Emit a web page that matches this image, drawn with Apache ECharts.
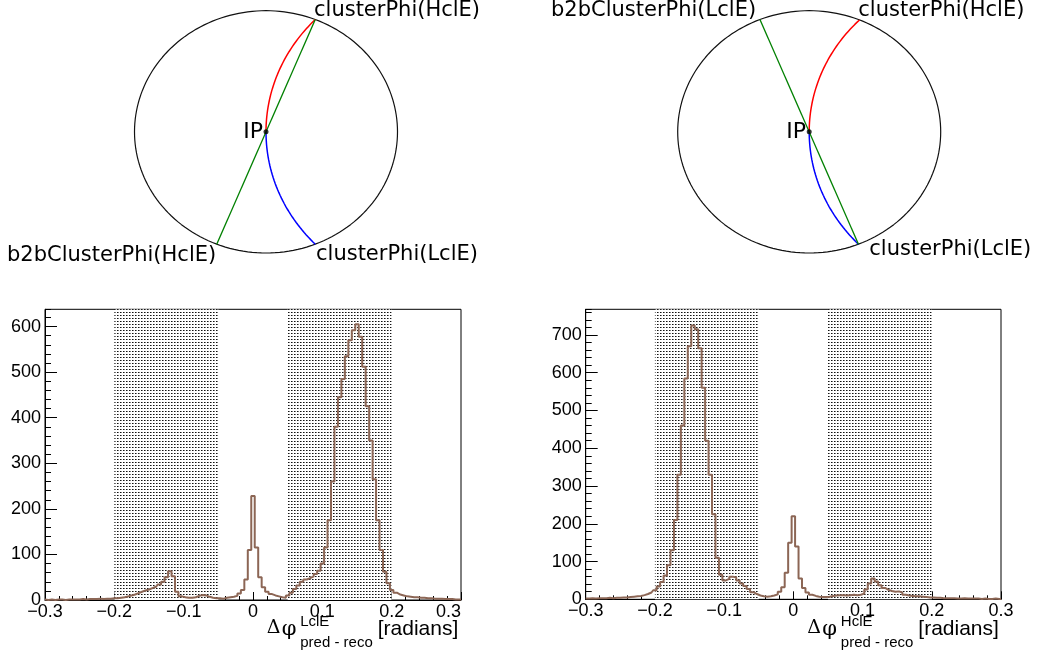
<!DOCTYPE html>
<html><head><meta charset="utf-8">
<script src="https://cdn.jsdelivr.net/npm/echarts@6/dist/echarts.min.js"></script>
<style>html,body{margin:0;padding:0;background:#fff}#c{width:1038px;height:659px}</style>
</head><body><div id="c"></div>
<script>
// ---------- data ----------
const binMin = -0.3;
const binWidth = 0.005;
// counts per bin, bin centres -0.300 ... 0.300 (LclE plot, left)
const countsLclE = [
 1,0,1,0,1,1,0,1,1,1, 1,2,1,2,2,2,3,2,3,3,
 4,4,5,6,8,10,12,15,18,21, 23,26,29,34,40,50,63,52,18,8,
 6,5,5,6,9,11,10,7,5,4, 4,3,5,6,7,9,14,22,45,110,
 228,115,50,28,18,13,10,8,6,5, 10,16,24,32,40,45,48,52,57,64,
 80,115,175,260,380,445,485,535,570,592, 605,578,512,425,350,265,175,110,62,37,
 22,16,12,10,8,7,6,6,5,5, 4,4,3,3,3,2,2,2,1,1, 1];
// counts per bin (HclE plot, right)
const countsHclE = [
 2,2,3,2,3,3,3,4,3,4, 4,5,5,6,7,8,9,11,14,18,
 24,34,46,63,90,130,210,330,460,585, 670,725,715,665,560,420,330,225,110,65,
 50,54,60,58,50,42,35,27,19,14, 10,8,7,8,10,13,20,32,70,150,
 220,140,55,30,18,12,9,7,6,6, 7,9,10,11,11,10,11,12,11,12,
 15,26,42,55,47,37,30,25,22,20, 21,18,12,10,9,8,8,7,6,5,
 5,4,4,3,3,3,3,2,2,3, 2,2,2,2,1,2,1,1,2,1, 1];
const shadedRanges = [[-0.2, -0.05], [0.05, 0.2]];
const yMaxLcl = 638;
const yMaxHcl = 768;

// diagram angles (degrees, on the unit circle of each sketch)
const leftDiagramClusterAngles = [68, -68];     // clusterPhi(HclE), clusterPhi(LclE)
const leftDiagramB2BAngle = 248;                // b2bClusterPhi(HclE)
const rightDiagramClusterAngles = [67.5, -68];  // clusterPhi(HclE), clusterPhi(LclE)
const rightDiagramB2BAngle = 112;               // b2bClusterPhi(LclE)
const leftDiagramLabels = ['clusterPhi(HclE)', 'clusterPhi(LclE)', 'b2bClusterPhi(HclE)'];
const rightDiagramLabels = ['clusterPhi(HclE)', 'clusterPhi(LclE)', 'b2bClusterPhi(LclE)'];

// ---------- helpers ----------
const D = Math.PI / 180;
function ellipsePts() { const p = []; for (let a = 0; a <= 360; a += 2) p.push([Math.cos(a*D), Math.sin(a*D)]); return p; }
function arcPts(thDeg) {
  const th = thDeg * D, R = 1 / (2 * Math.cos(th));
  let end = Math.atan2(Math.sin(th), Math.cos(th) - R); if (end < 0) end += 2*Math.PI;
  const p = [], n = 40;
  for (let i = 0; i <= n; i++) { const a = Math.PI + (end - Math.PI) * i / n; p.push([R + R*Math.cos(a), R*Math.sin(a)]); }
  return p;
}
function diam(thDeg, b2bDeg) { return [[Math.cos(thDeg*D), Math.sin(thDeg*D)], [Math.cos(b2bDeg*D), Math.sin(b2bDeg*D)]]; }
function histData(counts) { return counts.map((c, i) => [+(binMin + i*binWidth).toFixed(4), c]); }

const dotCanvas = document.createElement('canvas');
dotCanvas.width = 3; dotCanvas.height = 3;
(function(){ const g = dotCanvas.getContext('2d'); g.fillStyle = '#ffffff'; g.fillRect(0,0,3,3);
  g.fillStyle = '#111111'; g.fillRect(0,0,1,1); g.fillStyle = '#7a7a7a'; g.fillRect(1,0,1,1); })();
const dotPattern = { image: dotCanvas, repeat: 'repeat' };

const histColor = '#8c6655';
const tickFont = 'Liberation Sans';
function xFmt(v) { const r = Math.round(v*10)/10; if (r === 0) return '0'; return r < 0 ? '\u2212' + Math.abs(r) : String(r); }

function diagSeries(ax, clusterAngles, b2b, diamFrom) {
  return [
    { type:'line', xAxisIndex:ax, yAxisIndex:ax, data: ellipsePts(), showSymbol:false, clip:false, lineStyle:{color:'#111', width:1.2}, silent:true },
    { type:'line', xAxisIndex:ax, yAxisIndex:ax, data: arcPts(clusterAngles[0]), showSymbol:false, clip:false, lineStyle:{color:'#ff0000', width:1.5}, silent:true },
    { type:'line', xAxisIndex:ax, yAxisIndex:ax, data: arcPts(clusterAngles[1]), showSymbol:false, clip:false, lineStyle:{color:'#0000ff', width:1.5}, silent:true },
    { type:'line', xAxisIndex:ax, yAxisIndex:ax, data: diam(diamFrom, b2b), showSymbol:false, clip:false, lineStyle:{color:'#008000', width:1.3}, silent:true },
    { type:'scatter', xAxisIndex:ax, yAxisIndex:ax, data: [[0,0]], symbolSize:5, itemStyle:{color:'#000'}, silent:true, z:5 }
  ];
}

function histXAxis(gi, alignMax) {
  return { gridIndex:gi, type:'value', min:-0.3, max:0.3, interval:0.1,
    axisLine:{show:true, onZero:false, lineStyle:{color:'#000', width:1}},
    axisTick:{show:true, inside:true, length:8, lineStyle:{color:'#000'}},
    minorTick:{show:true, splitNumber:5, length:4, lineStyle:{color:'#000'}},
    splitLine:{show:false}, minorSplitLine:{show:false},
    axisLabel:{formatter:xFmt, color:'#000', fontFamily:tickFont, fontSize:18, margin:3, alignMaxLabel: alignMax ? 'right' : undefined} };
}
function histYAxisMajor(gi, max) {
  return { gridIndex:gi, type:'value', min:0, max:max, interval:100, position:'left',
    axisLine:{show:true, onZero:false, lineStyle:{color:'#000', width:1}},
    axisTick:{show:true, inside:true, length:12, lineStyle:{color:'#000'}},
    splitLine:{show:false},
    axisLabel:{color:'#000', fontFamily:tickFont, fontSize:18, margin:4, showMaxLabel:false} };
}
function histYAxisMinor(gi, max) {
  return { gridIndex:gi, type:'value', min:0, max:max, interval:20, position:'left',
    axisLine:{show:false, onZero:false}, axisTick:{show:true, inside:true, length:6, lineStyle:{color:'#000'}},
    splitLine:{show:false}, axisLabel:{show:false} };
}
function histSeries(xi, yi, counts) {
  return [
    { type:'line', xAxisIndex:xi, yAxisIndex:yi, data:[], z:1, silent:true,
      markArea:{ silent:true, itemStyle:{color: dotPattern}, label:{show:false},
        data: shadedRanges.map(r => [{xAxis:r[0]}, {xAxis:r[1]}]) } },
    { type:'line', xAxisIndex:xi, yAxisIndex:yi, data: histData(counts), step:'middle', showSymbol:false, z:3,
      lineStyle:{color:histColor, width:2}, silent:true }
  ];
}

function txt(x, y, text, font, align) {
  return { type:'text', x:x, y:y, silent:true, style:{ text:text, font:font, fill:'#000', textAlign: align || 'left', textVerticalAlign:'middle' } };
}
const labFont = '21px "DejaVu Sans"';
const ipFont = '22px "DejaVu Sans"';
const symFont = '19px "DejaVu Serif"';
const phiFont = '21px "DejaVu Serif"';
const smallFont = '15px "Liberation Sans"';
const unitFont = '21px "Liberation Sans"';

function axisTitle(x0, sup) {
  return [
    txt(x0, 628.5, '\u0394', symFont),
    txt(x0 + 15, 630, '\u03c6', phiFont),
    txt(x0 + 33.5, 621.5, sup, smallFont),
    txt(x0 + 33.5, 643, 'pred - reco', smallFont),
    txt(x0 + 111, 629, '[radians]', unitFont)
  ];
}

const chart = echarts.init(document.getElementById('c'), null, {renderer:'canvas'});
chart.setOption({
  animation:false,
  backgroundColor:'#ffffff',
  grid:[
    {left:134.5, top:10.7, width:263, height:242.3, show:false},
    {left:677.7, top:10.7, width:263, height:242.3, show:false},
    {left:45, top:309.3, width:416, height:290.7, show:true, borderColor:'#000', borderWidth:1, backgroundColor:'transparent'},
    {left:585.7, top:309.3, width:415.3, height:290, show:true, borderColor:'#000', borderWidth:1, backgroundColor:'transparent'}
  ],
  xAxis:[
    {gridIndex:0, type:'value', min:-1, max:1, show:false},
    {gridIndex:1, type:'value', min:-1, max:1, show:false},
    histXAxis(2, true),
    histXAxis(3, false)
  ],
  yAxis:[
    {gridIndex:0, type:'value', min:-1, max:1, show:false},
    {gridIndex:1, type:'value', min:-1, max:1, show:false},
    histYAxisMajor(2, yMaxLcl), histYAxisMinor(2, yMaxLcl),
    histYAxisMajor(3, yMaxHcl), histYAxisMinor(3, yMaxHcl)
  ],
  series:[].concat(
    diagSeries(0, leftDiagramClusterAngles, leftDiagramB2BAngle, leftDiagramClusterAngles[0]),
    diagSeries(1, rightDiagramClusterAngles, rightDiagramB2BAngle, rightDiagramClusterAngles[1]),
    histSeries(2, 2, countsLclE),
    histSeries(3, 4, countsHclE)
  ),
  graphic:{ elements:[].concat([
    txt(314, 11, leftDiagramLabels[0], labFont),
    txt(316, 255, leftDiagramLabels[1], labFont),
    txt(7, 255.7, leftDiagramLabels[2], labFont),
    txt(263, 132, 'IP', ipFont, 'right'),
    txt(858.3, 11, rightDiagramLabels[0], labFont),
    txt(869.3, 250, rightDiagramLabels[1], labFont),
    txt(551, 11, rightDiagramLabels[2], labFont),
    txt(806, 132, 'IP', ipFont, 'right')
  ], axisTitle(266.7, 'LclE'), axisTitle(807.3, 'HclE')) }
});
</script></body></html>
